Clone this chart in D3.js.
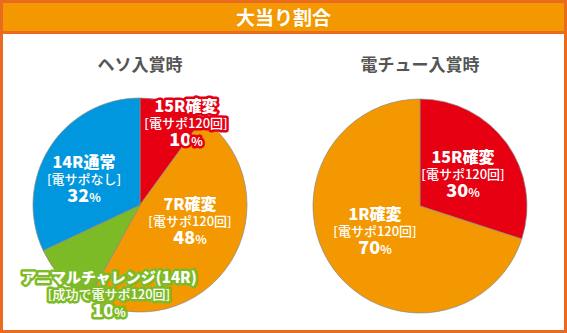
<!DOCTYPE html>
<html><head><meta charset="utf-8">
<script src="https://cdn.jsdelivr.net/npm/d3@7"></script>
<style>html,body{margin:0;padding:0;background:#fff;}svg{display:block;}</style>
</head><body>
<script>
const title = "大当り割合";
const pieTitles = ["ヘソ入賞時", "電チュー入賞時"];
const hesoNames = ["15R確変", "7R確変", "アニマルチャレンジ(14R)", "14R通常"];
const hesoSubs = ["[電サポ120回]", "[電サポ120回]", "[成功で電サポ120回]", "[電サポなし]"];
const hesoValues = [10, 48, 10, 32];
const denNames = ["15R確変", "1R確変"];
const denSubs = ["[電サポ120回]", "[電サポ120回]"];
const denValues = [30, 70];

const W = 567, H = 333;
const svg = d3.select("body").append("svg").attr("width", W).attr("height", H);
const font = "'Noto Sans CJK JP', 'Noto Sans', sans-serif";

// frame
svg.append("rect").attr("x", 1.5).attr("y", 1.5).attr("width", W - 3).attr("height", H - 3)
  .attr("fill", "#fff").attr("stroke", "#ea6a1e").attr("stroke-width", 3);
svg.append("rect").attr("x", 1.5).attr("y", 1.5).attr("width", W - 3).attr("height", 31)
  .attr("fill", "#f39800").attr("stroke", "#ea6a1e").attr("stroke-width", 3);
svg.append("text").attr("x", W / 2).attr("y", 25).attr("text-anchor", "middle")
  .attr("font-family", font).attr("font-weight", "bold").attr("font-size", 19)
  .attr("fill", "#fff").text(title);

const colorsHeso = ["#e60012", "#f39800", "#7cbb26", "#0097de"];
const colorsDen = ["#e60012", "#f39800"];

function drawPie(cx, cy, r, values, colors, names, subs, labelPos, strokeCols, nameSizes, subtitle) {
  svg.append("text").attr("x", cx).attr("y", 71).attr("text-anchor", "middle")
    .attr("font-family", font).attr("font-weight", "bold").attr("font-size", 17)
    .attr("fill", "#555").text(subtitle);
  const pie = d3.pie().sort(null).value(d => d);
  const arc = d3.arc().innerRadius(0).outerRadius(r);
  const g = svg.append("g").attr("transform", `translate(${cx},${cy})`);
  g.selectAll("path").data(pie(values)).join("path")
    .attr("d", arc).attr("fill", (d, i) => colors[i])
    .attr("stroke", "#8a8a8a").attr("stroke-width", 0.7);
  values.forEach((v, i) => {
    const [lx, ly] = labelPos[i];
    const t = svg.append("g").attr("transform", `translate(${lx},${ly})`)
      .attr("font-family", font).attr("text-anchor", "middle").attr("fill", "#fff")
      .attr("stroke", strokeCols[i]).attr("stroke-width", strokeCols[i] ? 5 : 0)
      .attr("stroke-linejoin", "round").attr("paint-order", "stroke");
    t.append("text").attr("y", 0).attr("font-weight", "900").attr("font-size", nameSizes[i]).text(names[i]);
    t.append("text").attr("y", 16).attr("font-size", 13).attr("font-weight", "500").text(subs[i]);
    const p = t.append("text").attr("y", 34).attr("font-weight", "900").attr("font-size", 18);
    p.append("tspan").text(v);
    p.append("tspan").attr("font-size", 12).attr("font-weight", "bold").text("%");
  });
}

drawPie(140, 205, 107, hesoValues, colorsHeso, hesoNames, hesoSubs,
  [[186, 112], [190, 210], [109, 283], [84, 168]],
  ["#e60012", null, "#7cbb26", "#0097de"], [16, 16, 15, 16], pieTitles[0]);
drawPie(420, 206, 107, denValues, colorsDen, denNames, denSubs,
  [[463, 163], [375, 220]],
  [null, null], [16, 16], pieTitles[1]);
</script>
</body></html>
